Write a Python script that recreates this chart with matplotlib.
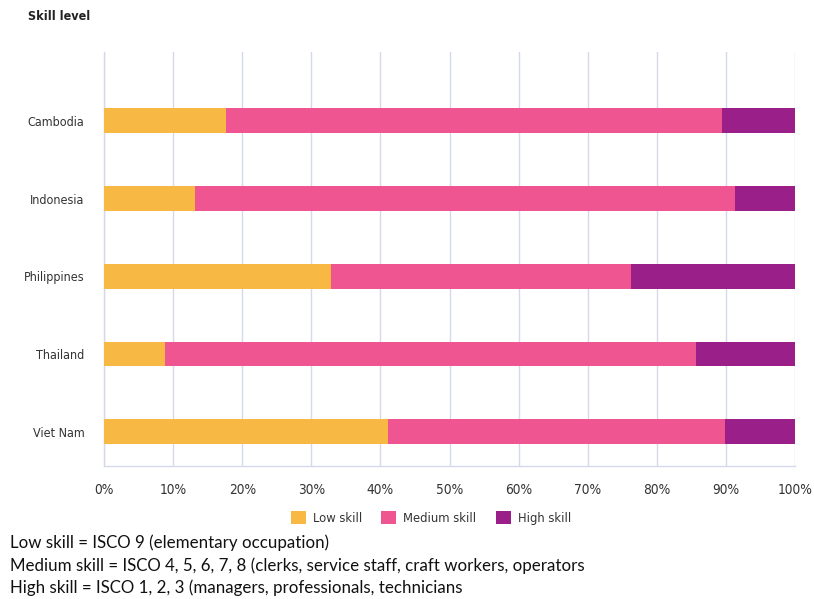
import matplotlib.pyplot as plt
import numpy as np

countries = ["Cambodia", "Indonesia", "Philippines", "Thailand", "Viet Nam"]
low_skill = [17.7, 13.1, 32.8, 8.8, 41.1]
medium_skill = [71.8, 78.2, 43.4, 76.9, 48.8]
high_skill = [10.5, 8.7, 23.8, 14.3, 10.1]
series_names = ["Low skill", "Medium skill", "High skill"]
colors = ["#F7B944", "#EF5591", "#9B1F88"]
xticks = [0, 10, 20, 30, 40, 50, 60, 70, 80, 90, 100]
footnotes = [
    "Low skill = ISCO 9 (elementary occupation)",
    "Medium skill = ISCO 4, 5, 6, 7, 8 (clerks, service staff, craft workers, operators",
    "High skill = ISCO 1, 2, 3 (managers, professionals, technicians",
]

cond = dict(family="DejaVu Sans", fontstretch="condensed")

fig = plt.figure(figsize=(8.14, 5.99), dpi=100)
ax = fig.add_axes([104/814, 1-466/599, (795-104)/814, (466-52)/599])

y = np.arange(len(countries))
left = np.zeros(len(countries))
for vals, name, c in zip([low_skill, medium_skill, high_skill], series_names, colors):
    ax.barh(y, vals, left=left, height=0.32, color=c, label=name, zorder=3)
    left += np.array(vals)

ax.set_xlim(0, 100)
ax.set_ylim(4.44, -0.885)
ax.set_yticks(y)
ax.set_yticklabels(countries, fontsize=9, color="#333333", **cond)
ax.set_xticks(xticks)
ax.set_xticklabels([f"{t}%" for t in xticks], fontsize=9.8, color="#333333", **cond)
ax.tick_params(axis="both", length=0)
ax.tick_params(axis="x", pad=12)
ax.tick_params(axis="y", pad=14)
ax.grid(axis="x", color="#D6D9EA", linewidth=1, zorder=0)
for s in ["top", "right"]:
    ax.spines[s].set_visible(False)
for s in ["left", "bottom"]:
    ax.spines[s].set_color("#D6D9EA")
    ax.spines[s].set_linewidth(1)

fig.text(28/814, 1-17/599, "Skill level", fontsize=9, fontweight="bold",
         color="#222222", va="center", ha="left", **cond)

handles, labels = ax.get_legend_handles_labels()
leg = fig.legend(handles, labels, loc="center", bbox_to_anchor=(431/814, 1-518/599), ncol=3,
                 frameon=False, prop=dict(size=9.3, family="DejaVu Sans", stretch="condensed"),
                 handlelength=1.15, handleheight=1.15,
                 columnspacing=1.5, handletextpad=0.55)
for t in leg.get_texts():
    t.set_color("#333333")

for i, line in enumerate(footnotes):
    fig.text(10/814, 1-(543 + 22.5*i)/599, line, fontsize=12.15, family="Lato",
             color="#111111", va="center", ha="left")

fig.savefig("out.png", dpi=100)
